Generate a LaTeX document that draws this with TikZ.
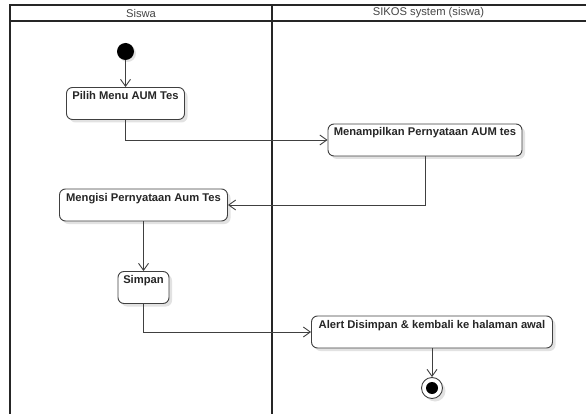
\documentclass[tikz,border=0pt]{standalone}
\usepackage{fontspec}
\setmainfont{Liberation Sans}
\usetikzlibrary{arrows.meta,shadows}
\definecolor{linegray}{HTML}{404040}
\definecolor{titlegray}{HTML}{444444}
\begin{document}
\begin{tikzpicture}[
        x=1pt, y=-1pt,
        font=\fontsize{11.2}{13}\selectfont,
        lane/.style={draw=black!85, line width=1.6pt},
        action/.style={rectangle, draw=linegray, fill=white, line width=0.9pt, rounded corners=6pt,
            font=\fontsize{11.2}{13}\selectfont\bfseries, text=black!85, inner xsep=2pt, inner ysep=3.5pt,
            text height=8.5pt, text depth=16.5pt, minimum height=32pt,
            drop shadow={shadow xshift=3pt, shadow yshift=-3pt, fill=black!25, opacity=0.45}},
        startnode/.style={circle, fill=black, inner sep=0pt, minimum size=17pt,
            drop shadow={shadow xshift=2pt, shadow yshift=-2pt, fill=black!25, opacity=0.45}},
        endnode/.style={circle, draw=linegray, fill=white, line width=0.9pt, inner sep=0pt, minimum size=21pt,
            drop shadow={shadow xshift=3pt, shadow yshift=-3pt, fill=black!25, opacity=0.45}},
        arrow/.style={-{Straight Barb[length=7pt,width=10pt]}, draw=linegray, line width=0.9pt}
    ]
        \useasboundingbox (0,0) rectangle (586,414);

        % Swimlanes
        \draw[lane] (10,414) -- (10,5) -- (586,5);
        \draw[lane] (10,21) -- (586,21);
        \draw[lane] (272,5) -- (272,414);
        \node[text=titlegray] (siswa) at (141,13) {Siswa};
        \node[text=titlegray] (sikos) at (428.5,13) {SIKOS system (siswa)};

        % Actions
        \node[startnode] (start) at (125.5,51.5) {};
        \node[action, minimum width=118pt] (pilih) at (125.5,103.5) {Pilih Menu AUM Tes};
        \node[action, minimum width=194pt] (tampil) at (425,140) {Menampilkan Pernyataan AUM tes};
        \node[action, minimum width=168pt] (isi) at (143.5,205) {Mengisi Pernyataan Aum Tes};
        \node[action, minimum width=51pt] (simpan) at (143.5,287.5) {Simpan};
        \node[action, minimum width=241pt] (alert) at (432,332) {Alert Disimpan \& kembali ke halaman awal};
        \node[endnode] (finish) at (432,388) {};
        \node[circle, fill=black, inner sep=0pt, minimum size=12pt] (finishdot) at (finish) {};

        % Flows
        \draw[arrow] (start) -- (pilih);
        \draw[arrow] (pilih.south) |- (tampil.west);
        \draw[arrow] (tampil.south) |- (isi.east);
        \draw[arrow] (isi) -- (simpan);
        \draw[arrow] (simpan.south) |- (alert.west);
        \draw[arrow] (alert) -- (finish);
    \end{tikzpicture}
\end{document}
